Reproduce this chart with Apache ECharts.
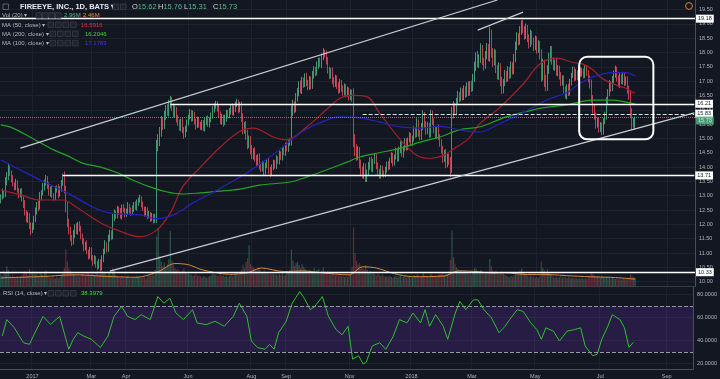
<!DOCTYPE html>
<html><head><meta charset="utf-8">
<script src="https://cdn.jsdelivr.net/npm/echarts@6/dist/echarts.min.js"></script>
<style>html,body{margin:0;padding:0;background:#131722;}#c{width:720px;height:379px;}</style>
</head><body><div id="c"></div>
<script>
// ---------- DATA ----------
// daily closes, bar 0 = 1 Dec 2016 ... bar 419 = last bar
const firstOpen = 12.85;
const closes = [
12.95,13.10,13.05,13.45,13.70,13.95,13.80,13.60,13.40,13.30,13.45,13.20,13.05,13.15,
12.90,12.70,12.40,12.20,12.30,11.95,11.80,11.90,
12.20,12.45,12.70,12.60,12.95,13.10,13.30,13.45,13.60,
13.35,13.10,13.25,13.00,12.95,13.20,13.30,13.05,13.25,13.45,13.65,
13.20,12.60,12.10,11.80,11.55,11.40,11.65,11.90,11.75,12.00,11.85,
11.60,11.40,11.20,11.30,11.05,10.90,11.10,10.85,10.70,10.80,10.60,10.55,10.70,10.50,
10.80,11.05,11.30,11.15,11.50,11.70,11.60,12.20,12.40,
12.30,12.55,12.45,12.30,12.60,12.50,12.35,12.45,12.65,12.50,
12.40,12.55,12.70,12.60,12.75,12.85,12.90,12.70,12.55,12.40,12.50,12.30,12.35,
12.20,12.30,12.15,12.25,14.70,14.85,15.20,
15.60,15.45,15.80,16.05,15.90,16.15,16.30,16.10,
15.85,16.00,15.70,15.55,15.40,15.60,15.30,15.15,
15.35,15.55,15.75,15.90,15.70,15.85,15.60,15.45,15.65,15.50,
15.40,15.55,15.35,15.60,15.70,15.50,15.65,15.80,16.00,16.15,16.20,
16.05,15.85,15.60,15.75,15.55,15.70,15.90,15.80,
15.95,16.10,15.90,16.05,16.20,16.25,16.00,16.15,
15.70,15.30,15.45,15.10,14.80,14.95,14.60,14.40,14.55,14.30,14.15,14.35,14.05,
13.95,14.10,13.85,14.05,14.20,13.90,13.80,14.00,14.15,
14.05,14.30,14.20,14.45,14.35,14.60,14.50,14.75,14.65,14.85,14.90,
15.90,16.15,16.05,16.40,16.60,16.85,16.70,17.00,16.90,
17.15,16.95,16.80,17.05,16.85,17.20,17.40,17.30,17.55,17.70,17.60,17.85,18.00,17.95,
17.70,17.40,17.20,17.35,17.05,16.90,17.10,16.85,16.70,16.95,16.75,
16.60,16.80,16.55,16.70,16.45,16.60,16.40,
14.90,14.60,14.40,14.55,14.10,13.90,13.75,14.00,13.60,
13.80,14.05,14.25,13.95,14.20,14.35,14.05,13.85,13.70,13.95,13.80,13.75,13.90,
14.10,14.00,14.25,14.40,14.15,14.35,14.55,14.30,14.60,14.80,14.45,14.65,14.90,14.70,14.95,15.10,14.85,15.00,
15.30,15.15,15.55,15.20,15.05,15.40,15.80,15.50,15.25,15.45,15.15,15.85,15.60,15.30,15.10,15.35,15.05,14.85,
14.60,14.30,14.50,14.10,14.35,14.20,14.00,15.85,16.10,
15.95,16.30,16.50,16.40,16.65,16.45,16.70,16.55,16.85,16.60,16.90,16.75,17.10,
17.50,17.85,17.60,17.80,18.10,17.70,17.55,17.90,18.15,17.85,18.60,
18.00,17.70,17.95,17.45,17.20,17.50,17.00,16.70,16.95,17.25,17.10,
17.40,17.20,17.55,17.35,17.80,18.20,18.55,18.40,18.75,19.00,
18.80,18.60,18.85,18.50,18.30,18.65,18.40,18.20,18.45,18.10,18.30,17.90,
17.20,17.60,17.00,16.80,17.40,17.85,18.10,17.70,
17.50,17.65,17.30,17.45,17.20,16.95,17.10,
16.70,16.50,16.80,16.60,16.95,
17.20,17.40,17.10,17.30,17.15,17.40,17.25,
17.35,17.20,17.45,17.30,17.10,16.90,
16.40,16.05,15.80,15.50,15.60,15.35,15.45,15.25,
15.60,15.80,16.30,16.60,16.90,16.75,17.05,
17.25,17.40,17.10,16.90,17.15,17.00,17.20,16.95,17.05,
16.70,16.50,15.90,15.50,15.62,15.73
];
// upper / lower wick lengths, cents beyond the candle body
const upperWick = [
10,15,8,20,12,18,10,8,12,6,14,9,7,10,
12,8,15,10,14,9,12,16,
10,14,8,12,18,9,15,11,13,
8,12,7,10,9,14,6,11,8,10,12,
20,15,18,10,12,8,15,10,14,9,11,
10,8,12,9,14,7,11,10,8,12,9,13,10,8,
12,10,15,8,14,11,9,16,12,
8,10,7,12,9,11,8,10,13,7,
9,11,8,10,12,9,14,8,10,7,11,9,12,
8,10,7,12,25,30,20,
18,14,16,12,15,20,18,14,
12,15,10,13,11,9,14,10,
9,11,8,13,10,12,8,9,11,10,
8,10,9,12,7,11,9,10,12,8,11,
10,12,9,11,8,13,10,9,
11,8,12,10,9,13,10,12,
14,18,12,16,20,15,13,17,11,14,12,10,13,
10,12,9,11,8,12,10,9,11,
9,11,8,12,10,9,11,10,12,9,10,
25,20,15,18,16,14,17,15,12,
12,14,10,13,11,15,12,10,14,11,13,12,15,10,
12,14,10,11,13,9,12,10,11,13,9,
10,12,9,11,8,12,10,
35,25,20,18,15,16,12,14,13,
11,13,10,12,9,14,10,11,9,12,10,8,11,
9,11,8,12,10,9,13,8,11,10,12,9,11,10,8,12,9,10,
12,10,15,11,9,14,18,12,10,13,9,15,12,10,11,9,13,10,
12,14,10,13,11,12,15,25,20,
14,12,16,11,13,10,15,12,11,14,10,12,15,
18,15,20,14,22,16,12,15,18,14,30,
20,15,18,14,12,16,13,15,12,14,11,
12,10,14,11,15,18,16,13,17,12,
14,12,16,11,13,15,10,12,14,11,13,10,
20,18,15,22,16,14,12,13,
12,10,14,11,9,12,10,
10,12,9,11,13,
9,11,10,12,8,10,9,
11,9,12,10,8,10,
15,12,14,10,13,11,12,10,
11,13,15,12,14,10,13,
12,14,10,11,13,9,12,10,11,
12,14,18,15,10,3
];
const lowerWick = [
12,8,14,10,9,15,11,13,8,12,10,9,14,11,
10,13,9,12,15,11,18,10,
9,12,10,14,8,11,9,12,10,
11,9,13,8,12,10,9,14,8,11,10,
12,18,20,15,14,16,10,12,9,11,10,
12,10,14,11,9,13,10,12,15,9,11,14,10,12,
10,12,9,13,11,10,14,12,9,
11,9,12,10,13,8,11,9,10,12,
10,8,11,9,12,10,9,11,8,13,10,12,9,
11,9,12,10,20,15,12,
14,16,12,15,11,13,10,14,
12,10,14,11,13,15,12,16,
11,13,10,9,12,10,11,14,9,12,
10,12,9,11,13,10,12,9,11,10,12,
11,13,10,12,14,9,11,10,
10,12,9,11,13,10,12,9,
12,16,13,15,18,14,16,12,14,11,15,12,13,
12,10,14,11,9,13,15,10,11,
10,12,9,11,10,12,9,11,10,12,11,
15,12,18,14,11,13,12,15,13,
11,13,12,10,14,12,11,13,10,12,11,14,12,13,
12,14,13,11,15,12,10,13,14,11,12,
11,10,12,9,13,11,12,
20,22,18,16,15,17,14,16,12,
12,10,14,11,13,9,12,15,11,10,13,12,10,
10,12,9,11,13,10,9,12,10,11,9,12,10,13,11,9,12,10,
11,13,10,14,12,10,11,13,12,10,14,11,13,12,10,12,11,14,
13,15,12,14,11,13,35,20,15,
12,14,11,13,10,12,11,14,10,12,11,13,10,
13,15,12,14,16,13,18,12,14,15,18,
18,20,15,17,14,16,18,15,13,12,14,
11,13,10,12,11,14,12,15,13,14,
13,15,12,14,16,11,13,15,12,14,11,15,
22,18,20,16,14,15,17,13,
12,14,11,13,15,12,10,
13,11,14,12,10,
10,9,11,8,12,10,9,
9,11,10,12,14,16,
15,18,14,16,12,15,13,14,
12,10,14,11,13,12,10,
11,13,12,10,14,11,12,13,10,
14,15,18,20,12,31
];
// daily volume, millions
const volumes = [
4.1,3.6,5.2,4.4,6.8,5.5,3.9,3.2,4.0,3.1,2.8,3.5,2.9,3.3,
3.8,4.2,5.1,4.6,3.7,5.9,4.8,4.4,
5.0,4.1,4.6,3.5,4.9,4.2,3.8,4.5,5.3,
3.6,3.2,2.9,3.4,3.0,2.7,3.3,2.8,3.1,3.9,4.6,
6.2,12.5,8.4,6.1,5.3,4.8,4.2,3.9,3.5,3.8,3.4,
3.9,4.3,4.1,3.6,4.4,4.9,3.8,4.2,5.0,3.7,4.6,5.4,4.0,5.8,
5.1,4.4,4.8,3.6,4.3,4.9,3.9,6.1,5.2,
3.8,3.4,3.1,2.9,3.5,3.0,2.7,3.2,3.6,2.9,
3.1,2.8,3.3,2.9,3.6,3.2,3.0,2.8,3.4,3.1,2.7,3.5,3.9,
3.6,4.2,3.8,5.5,16.8,19.5,10.2,
8.3,6.9,7.8,6.2,7.4,9.1,18.6,8.8,
7.2,6.1,5.6,5.9,5.1,4.6,5.3,6.0,
4.8,4.2,4.5,3.9,4.1,3.6,3.8,4.3,3.5,3.7,
3.4,3.1,3.6,3.3,2.9,3.2,3.5,3.8,4.4,4.1,3.9,
3.6,3.8,4.2,3.5,3.7,3.3,3.6,3.2,
3.5,3.9,3.4,3.7,4.0,4.5,3.8,4.2,
5.6,7.4,6.1,8.2,9.5,13.8,7.6,6.8,6.2,5.9,5.4,6.3,5.8,
5.1,4.7,5.3,4.4,4.9,4.2,4.6,4.0,4.3,
3.9,4.1,3.7,4.2,3.8,4.4,3.6,4.0,4.5,4.8,5.6,
12.4,8.6,6.9,7.8,8.3,7.1,6.2,7.5,6.6,
6.0,5.4,4.9,5.6,4.8,5.2,6.1,5.0,5.5,5.9,4.7,5.3,6.4,5.1,
4.8,5.2,4.5,3.9,4.4,4.1,3.7,4.0,3.6,3.8,3.4,
3.6,3.2,3.5,3.1,3.8,4.2,6.5,
19.8,11.2,8.6,7.3,7.9,6.8,6.1,5.7,7.2,
5.6,4.9,5.2,4.4,4.7,4.1,3.8,4.3,3.9,3.5,4.0,3.6,3.3,
3.4,3.1,3.6,3.2,2.9,3.3,3.5,3.0,3.4,3.7,3.1,3.3,3.6,2.8,3.2,3.5,2.9,3.1,
3.8,3.3,4.1,3.6,3.2,3.5,4.4,3.7,3.3,3.6,3.1,4.2,3.8,3.4,3.6,3.2,3.9,4.3,
4.0,4.6,3.8,4.4,4.1,5.2,8.9,18.7,9.8,
7.6,6.4,5.8,5.1,5.5,4.7,5.0,4.4,4.8,4.2,4.5,4.0,4.6,
6.3,5.9,5.2,4.9,5.5,4.6,4.3,4.8,5.1,4.4,9.2,
6.8,5.4,4.7,5.2,4.6,4.1,4.5,5.0,4.3,3.9,3.6,
3.4,3.1,3.5,3.2,3.8,4.4,4.9,4.1,5.3,6.0,
4.6,3.9,4.2,3.6,3.3,3.7,3.1,3.4,3.0,3.3,2.9,3.6,
8.4,6.2,5.5,4.9,5.8,4.6,4.2,3.8,
3.3,3.0,3.4,2.9,3.2,3.5,3.0,
3.4,3.1,2.8,3.2,2.9,
2.7,3.0,2.6,2.9,2.5,2.8,2.6,
2.9,2.5,2.8,2.6,3.1,3.5,
4.6,4.1,3.8,3.5,3.2,3.6,3.0,3.4,
3.1,2.9,3.3,2.8,3.2,2.6,2.9,
2.7,2.5,2.8,2.4,2.6,2.3,2.7,2.5,2.4,
2.8,3.2,4.1,3.6,3.1,2.96
];
// moving averages: [bar, value]
const ma50Pts = [[0,13.2],[13,13.03],[26,12.85],[41,12.85],[50,12.6],[66,12.05],[77,11.8],[92,11.57],[103,11.8],[112,12.4],[120,13.3],[132,14.0],[145,14.7],[158,15.25],[167,15.36],[180,15.05],[189,14.95],[202,15.4],[215,16.0],[224,16.4],[232,16.5],[242,16.45],[250,15.9],[264,14.95],[275,14.4],[283,14.3],[292,14.4],[298,14.6],[308,14.95],[312,15.2],[316,15.5],[330,16.1],[345,16.9],[356,17.6],[367,17.8],[378,17.65],[384,17.6],[391,17.4],[397,17.1],[407,16.85],[413,16.75],[417,16.62],[419,16.59]];
const ma100Pts = [[0,14.25],[13,13.9],[26,13.55],[44,13.1],[61,12.6],[72,12.4],[92,12.33],[103,12.2],[114,12.33],[127,12.75],[143,13.2],[158,13.65],[171,14.1],[184,14.6],[198,15.2],[211,15.55],[224,15.75],[237,15.72],[250,15.58],[264,15.4],[277,15.36],[290,15.42],[303,15.3],[316,15.22],[330,15.53],[345,15.9],[361,16.35],[374,16.6],[382,16.9],[391,17.15],[404,17.3],[413,17.3],[419,17.18]];
const ma200Pts = [[0,15.47],[8,15.36],[21,15.0],[35,14.6],[44,14.4],[54,14.14],[66,14.0],[77,13.8],[87,13.55],[99,13.3],[110,13.13],[120,13.06],[132,13.1],[145,13.16],[158,13.23],[171,13.37],[191,13.48],[202,13.65],[215,13.9],[229,14.18],[237,14.35],[250,14.5],[264,14.66],[277,14.87],[290,15.05],[303,15.3],[316,15.4],[334,15.75],[356,16.05],[374,16.17],[382,16.27],[391,16.34],[404,16.34],[413,16.27],[419,16.2]];
const volMaPts = [[0,2.9],[30,3.4],[42,3.8],[51,3.9],[69,3.4],[90,3.1],[104,5.0],[115,7.7],[124,7.3],[133,5.6],[151,4.1],[163,4.6],[172,6.2],[187,5.0],[200,5.2],[212,4.6],[230,3.9],[239,6.6],[248,6.2],[260,4.3],[272,3.3],[293,3.5],[302,5.2],[315,5.0],[324,4.5],[333,4.6],[348,4.0],[360,4.0],[378,3.5],[393,3.2],[406,3.0],[419,2.46]];
const rsiPts = [[1,43.8],[4,58.2],[9,51],[15,38],[19,36.6],[22,45],[28,61],[33,54],[39,61],[42,46.7],[45,32.3],[48,41],[51,46.7],[55,43.8],[60,41],[66,33.8],[71,43.8],[75,61],[80,69.7],[84,61],[89,58.2],[93,62.5],[99,58.2],[104,78.3],[108,72.5],[112,76.8],[116,63.9],[121,58.2],[127,66.8],[130,55.3],[136,53.8],[142,56.7],[148,52.4],[154,61],[158,72.5],[163,61],[166,39.5],[170,33.8],[175,32.3],[178,36.6],[181,32.3],[184,46.7],[189,56.7],[193,72.5],[198,82.6],[201,76.8],[205,66.8],[208,69.7],[213,78.3],[217,61],[222,49.5],[226,45],[230,52.4],[233,23.7],[237,26.6],[240,19.5],[242,21],[246,35.2],[251,38],[255,32.3],[260,43.8],[264,58.2],[269,55.3],[273,63.9],[278,55.3],[281,66.8],[284,52.4],[288,62.5],[293,52.4],[296,41],[301,63.9],[304,74],[308,66.8],[313,75.4],[316,75.4],[320,66.8],[325,59.6],[330,46.7],[334,52.4],[337,58.2],[342,66.8],[346,65.3],[351,55.3],[355,49.5],[358,41],[361,51],[366,48.1],[370,39.5],[375,48.1],[380,49.5],[384,51],[387,35.2],[392,26.6],[395,28],[398,41],[402,52.4],[405,62.5],[410,58.2],[413,51],[416,34],[419,38.3979]];
// axis ticks
const monthTicks = [21,60,83,124,166,189,231,272,312,354,397,441];
const monthLabels = ['2017','Mar','Apr','Jun','Aug','Sep','Nov','2018','Mar','May','Jul','Sep'];
const priceTicks = [10,10.5,11,11.5,12,12.5,13,13.5,14,14.5,15,15.5,16,16.5,17,17.5,18,18.5,19,19.5];
const rsiTicks = [20,40,60,80];
// drawn levels / lines (bar, price)
const levelFull = [19.18, 10.33];
const level1621 = {from:112, price:16.21};
const level1583 = {from:239, price:15.83};
const level1371 = {from:41, price:13.71};
const lastPrice = 15.73;
const upperChannel = [[13,14.66],[328,19.83]];
const upperShort = [[315,18.78],[345,19.41]];
const lowerChannel = [[72,10.37],[458,15.89]];
const focusBox = [[382,17.85],[431,14.97]];

// ---------- CHART ----------
const FF = '"Liberation Sans", Arial, sans-serif';
const N = 459;
const cats = Array.from({length:N}, (_, i) => String(i));
const tickSet = new Set(monthTicks);
const labelOf = {}; monthTicks.forEach((t,k)=>{labelOf[t]=monthLabels[k];});
const UP = '#53b987', DOWN = '#eb4d5c';
const candles = closes.map((c,i)=>{
  const o = i===0 ? firstOpen : closes[i-1];
  return [o, c, +(Math.min(o,c) - lowerWick[i]/100).toFixed(2), +(Math.max(o,c) + upperWick[i]/100).toFixed(2)];
});
const volData = volumes.map((v,i)=>({value:v, itemStyle:{color: candles[i][1] >= candles[i][0] ? 'rgba(83,185,135,0.38)' : 'rgba(235,77,92,0.38)'}}));

function boxLabel(txt, bg, fg, dy){
  return {show:true, position:'end', formatter:txt, backgroundColor:bg, color:fg, fontSize:5.5, fontFamily:FF,
          padding:[1,2,1,2], distance:1, offset:[0, dy||0]};
}
const GRID = '#1e2230';
const hLine = {color:'#ffffff', width:1.4, type:'solid'};
const chLine = {color:'#c9cbd1', width:1.2, type:'solid'};

const chart = echarts.init(document.getElementById('c'), null, {width:720, height:379});
const splitX = {show:true, interval:(idx)=>tickSet.has(idx), lineStyle:{color:GRID, width:1}};

chart.setOption({
  backgroundColor:'#131722',
  animation:false,
  grid:[
    {left:0, right:25, top:0, bottom:92.5},
    {left:0, right:25, top:200, bottom:92.5},
    {left:0, right:25, top:287, bottom:9}
  ],
  xAxis:[
    {type:'category', gridIndex:0, data:cats, boundaryGap:true, axisLabel:{show:false}, axisTick:{show:false},
     axisLine:{show:true, onZero:false, lineStyle:{color:'#363a45'}}, splitLine:splitX},
    {type:'category', gridIndex:1, data:cats, boundaryGap:true, axisLabel:{show:false}, axisTick:{show:false},
     axisLine:{show:false}, splitLine:{show:false}},
    {type:'category', gridIndex:2, data:cats, boundaryGap:true, axisTick:{show:false},
     axisLine:{show:true, onZero:false, lineStyle:{color:'#4a4f5c'}},
     axisLabel:{show:true, interval:(idx)=>tickSet.has(idx), formatter:(v,idx)=>labelOf[idx]||'', fontSize:5.5, color:'#b2b5be', fontFamily:FF, margin:4, hideOverlap:false},
     splitLine:splitX}
  ],
  yAxis:[
    {type:'value', gridIndex:0, position:'right', min:9.8316, max:19.8316, scale:true,
     axisLine:{show:true, lineStyle:{color:'#4a4f5c'}},
     axisTick:{show:false, customValues:priceTicks},
     axisLabel:{customValues:priceTicks, formatter:(v)=>v.toFixed(2), fontSize:5.5, color:'#b2b5be', fontFamily:FF, margin:4},
     splitLine:{show:true, lineStyle:{color:GRID, width:1}}},
    {type:'value', gridIndex:1, position:'right', min:0, max:29, show:false, splitLine:{show:false}},
    {type:'value', gridIndex:2, position:'right', min:15.1, max:86.6,
     axisLine:{show:true, lineStyle:{color:'#4a4f5c'}},
     axisTick:{show:false, customValues:rsiTicks},
     axisLabel:{customValues:rsiTicks, formatter:(v)=>v.toFixed(4), fontSize:5.5, color:'#b2b5be', fontFamily:FF, margin:4},
     splitLine:{show:true, lineStyle:{color:GRID, width:1}}}
  ],
  series:[
    {type:'bar', name:'Vol', xAxisIndex:1, yAxisIndex:1, data:volData, barWidth:'80%', silent:true, z:1},
    {type:'line', name:'VolMA', xAxisIndex:1, yAxisIndex:1, data:volMaPts, smooth:0.3, showSymbol:false, symbol:'none',
     lineStyle:{color:'#d9893a', width:1}, silent:true, z:2},
    {type:'candlestick', name:'FEYE', xAxisIndex:0, yAxisIndex:0, data:candles, barWidth:'75%', silent:true, z:3,
     itemStyle:{color:UP, color0:DOWN, borderColor:UP, borderColor0:DOWN, borderWidth:0.8},
     markLine:{silent:true, symbol:['none','none'], animation:false, precision:2,
      data:[
        {yAxis:levelFull[0], lineStyle:hLine, label:boxLabel('19.18','#ffffff','#131722')},
        {yAxis:levelFull[1], lineStyle:hLine, label:boxLabel('10.33','#ffffff','#131722')},
        [{coord:[level1621.from, level1621.price], lineStyle:hLine, label:boxLabel('16.21','#ffffff','#131722')},
         {coord:[N-1, level1621.price], lineStyle:hLine, label:boxLabel('16.21','#ffffff','#131722')}],
        [{coord:[level1583.from, level1583.price], lineStyle:{color:'#e0e0e0', width:1, type:'dashed'}, label:boxLabel('15.83','#ffffff','#131722',-1)},
         {coord:[N-1, level1583.price], lineStyle:{color:'#e0e0e0', width:1, type:'dashed'}, label:boxLabel('15.83','#ffffff','#131722',-1)}],
        {yAxis:lastPrice, lineStyle:{color:UP, width:1, type:'dotted', opacity:0.8}, label:boxLabel('15.73',UP,'#ffffff',3)},
        [{coord:[level1371.from, level1371.price], lineStyle:hLine, label:boxLabel('13.71','#ffffff','#131722')},
         {coord:[N-1, level1371.price], lineStyle:hLine, label:boxLabel('13.71','#ffffff','#131722')}],
        [{coord:upperChannel[0], lineStyle:chLine, label:{show:false}},{coord:upperChannel[1], lineStyle:chLine, label:{show:false}}],
        [{coord:upperShort[0], lineStyle:chLine, label:{show:false}},{coord:upperShort[1], lineStyle:chLine, label:{show:false}}],
        [{coord:lowerChannel[0], lineStyle:chLine, label:{show:false}},{coord:lowerChannel[1], lineStyle:chLine, label:{show:false}}]
      ]}},
    {type:'line', name:'MA50', xAxisIndex:0, yAxisIndex:0, data:ma50Pts, smooth:0.35, symbol:'none', lineStyle:{color:'#a3202a', width:1.2}, silent:true, z:4},
    {type:'line', name:'MA200', xAxisIndex:0, yAxisIndex:0, data:ma200Pts, smooth:0.35, symbol:'none', lineStyle:{color:'#25a325', width:1.2}, silent:true, z:4},
    {type:'line', name:'MA100', xAxisIndex:0, yAxisIndex:0, data:ma100Pts, smooth:0.35, symbol:'none', lineStyle:{color:'#2424b8', width:1.2}, silent:true, z:4},
    {type:'line', name:'RSI', xAxisIndex:2, yAxisIndex:2, data:rsiPts, smooth:false, symbol:'none', lineStyle:{color:'#2fbf2f', width:1}, silent:true, z:4,
     markArea:{silent:true, itemStyle:{color:'rgba(120,50,200,0.2)'}, data:[[{yAxis:30},{yAxis:70}]]},
     markLine:{silent:true, symbol:['none','none'], label:{show:false},
      lineStyle:{color:'#9598a1', type:'dashed', width:1}, data:[{yAxis:70},{yAxis:30}]}}
  ]
});

// ---------- header texts, icons and the rounded focus box ----------
const g = [];
function txt(id, x, y, text, fill, size, weight){
  g.push({type:'text', id, x, y, z:100, silent:true, style:{text, fill, fontSize:size||6.5, fontFamily:FF, fontWeight:weight||'normal', verticalAlign:'middle'}});
}
function boxes(prefix, x0, y, n, pitch){
  for(let k=0;k<n;k++) g.push({type:'rect', id:prefix+k, z:100, silent:true, shape:{x:x0+k*pitch, y:y-3, width:5.6, height:5.6},
    style:{fill:'#1e222d', stroke:'#434651', lineWidth:0.6}});
}
g.push({type:'rect', id:'ico0', z:100, silent:true, shape:{x:3, y:4, width:5.5, height:5.5}, style:{fill:'none', stroke:'#787b86', lineWidth:0.7}});
txt('title', 20, 7, 'FIREEYE, INC., 1D, BATS ▾', '#e6e8ee', 7.5, 'bold');
boxes('tb', 113, 7, 2, 7.5);
const ohlc = [['O','15.62',132],['H','15.76',158],['L','15.31',184],['C','15.73',213]];
ohlc.forEach((o,k)=>{
  g.push({type:'text', id:'ohlc'+k, x:o[2], y:7, z:100, silent:true,
    style:{text:'{a|'+o[0]+'}{b|'+o[1]+'}', verticalAlign:'middle', fontFamily:FF,
      rich:{a:{fill:'#d1d4dc', color:'#d1d4dc', fontSize:7.5, fontFamily:FF}, b:{fill:UP, color:UP, fontSize:7.5, fontFamily:FF}}}});
});
txt('vol', 2, 15.7, 'Vol (20) ▾', '#b2b5be', 6);
boxes('vb', 36, 15.7, 4, 6.5);
txt('volv1', 64, 15.7, '2.96M', UP, 6);
txt('volv2', 83, 15.7, '2.46M', '#e0913a', 6);
txt('ma50', 2, 25, 'MA (50, close) ▾', '#b2b5be', 6);
boxes('m1b', 48, 25, 4, 7.5);
txt('ma50v', 81, 25, '16.5916', '#e8333c', 6);
txt('ma200', 2, 34, 'MA (200, close) ▾', '#b2b5be', 6);
boxes('m2b', 50, 34, 4, 7.5);
txt('ma200v', 85, 34, '16.2046', '#3fd83f', 6);
txt('ma100', 2, 43.3, 'MA (100, close) ▾', '#b2b5be', 6);
boxes('m3b', 50, 43.3, 4, 7.5);
txt('ma100v', 85, 43.3, '17.1783', '#3a3ae0', 6);
txt('rsi', 3, 293.5, 'RSI (14, close) ▾', '#b2b5be', 6);
boxes('rb', 48, 293.5, 4, 7.5);
txt('rsiv', 81, 293.5, '38.3979', '#3fd83f', 6);
g.push({type:'circle', id:'clock', z:100, silent:true, shape:{cx:689, cy:6, r:3.4}, style:{fill:'none', stroke:'#d9822b', lineWidth:1}});

const p1 = chart.convertToPixel({xAxisIndex:0, yAxisIndex:0}, focusBox[0]);
const p2 = chart.convertToPixel({xAxisIndex:0, yAxisIndex:0}, focusBox[1]);
g.push({type:'rect', id:'focus', z:60, silent:true,
  shape:{x:p1[0], y:p1[1], width:p2[0]-p1[0], height:p2[1]-p1[1], r:8},
  style:{fill:'none', stroke:'#ffffff', lineWidth:2}});
chart.setOption({graphic:g});
</script>
</body></html>
